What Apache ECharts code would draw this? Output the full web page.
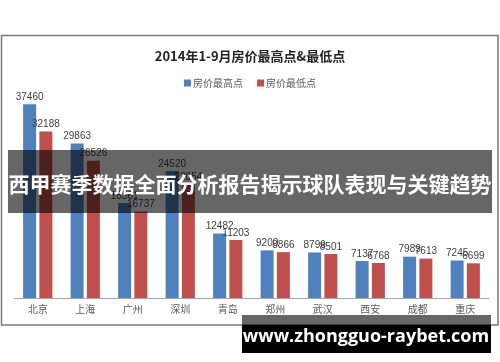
<!DOCTYPE html>
<html>
<head>
<meta charset="utf-8">
<script src="https://cdn.jsdelivr.net/npm/echarts@6/dist/echarts.min.js"></script>
<style>html,body{margin:0;padding:0;background:#fff;}#c{width:500px;height:362px;}</style>
</head>
<body>
<div id="c"></div>
<script>
var categories = ['北京','上海','广州','深圳','青岛','郑州','武汉','西安','成都','重庆'];
var highValues = [37460, 29863, 18361, 24520, 12482, 9200, 8799, 7137, 7989, 7245];
var lowValues  = [32188, 26526, 16737, 22054, 11203, 8866, 8501, 6768, 7613, 6699];
var seriesNames = ['房价最高点', '房价最低点'];
var titleText = '2014年1-9月房价最高点&最低点';
var bannerText = '西甲赛季数据全面分析报告揭示球队表现与关键趋势';
var siteText = 'www.zhongguo-raybet.com';

var FONT = '"Noto Sans CJK SC", "Noto Sans", sans-serif';
var chart = echarts.init(document.getElementById('c'), null, {renderer: 'canvas'});
var labelCfg = {show: true, position: 'top', distance: 2, fontSize: 10, color: '#404040', fontFamily: 'Liberation Sans, Arial, sans-serif'};
chart.setOption({
  backgroundColor: '#fff',
  animation: false,
  title: {
    text: titleText, left: 'center', top: 45,
    textStyle: {fontSize: 13, fontWeight: 'bold', color: '#222', fontFamily: FONT}
  },
  legend: {
    data: seriesNames, top: 73, left: 'center', itemWidth: 7, itemHeight: 7, itemGap: 14,
    icon: 'rect',
    textStyle: {fontSize: 10, color: '#595959', fontFamily: FONT, padding: [0,0,0,-3]}
  },
  grid: {left: 14, right: 11, top: 91, bottom: 64},
  xAxis: {
    type: 'category', data: categories,
    axisLine: {lineStyle: {color: '#a6a6a6'}},
    axisTick: {show: false},
    axisLabel: {fontSize: 10, color: '#595959', fontFamily: FONT, margin: 6}
  },
  yAxis: {type: 'value', min: 0, max: 40000, show: false, splitLine: {show: false}},
  series: [
    {name: seriesNames[0], type: 'bar', data: highValues, barWidth: 13, barGap: '25%',
     itemStyle: {color: '#4F81BD'}, label: labelCfg},
    {name: seriesNames[1], type: 'bar', data: lowValues, barWidth: 13,
     itemStyle: {color: '#C0504D'}, label: labelCfg}
  ],
  graphic: [
    {type: 'rect', z: -1, silent: true, shape: {x: 1.5, y: 35.5, width: 496.5, height: 289.5},
     style: {fill: 'none', stroke: '#7a7a7a', lineWidth: 1.5}},
    {type: 'rect', z: 100, silent: true, shape: {x: 8, y: 150, width: 484, height: 63},
     style: {fill: 'rgba(0,0,0,0.6)'}},
    {type: 'text', z: 101, silent: true, x: 250, y: 184,
     style: {text: bannerText, fill: '#fff', font: 'bold 21px ' + FONT, textAlign: 'center', textVerticalAlign: 'middle'}},
    {type: 'rect', z: 100, silent: true, shape: {x: 242, y: 315, width: 249, height: 10},
     style: {fill: 'rgba(0,0,0,0.6)'}},
    {type: 'rect', z: 100, silent: true, shape: {x: 242, y: 325, width: 249, height: 28},
     style: {fill: '#000'}},
    {type: 'text', z: 101, silent: true, x: 366, y: 337,
     style: {text: siteText, fill: '#fff', font: 'bold 18px "Open Sans", "DejaVu Sans", sans-serif', textAlign: 'center', textVerticalAlign: 'middle'}}
  ]
});
</script>
</body>
</html>
